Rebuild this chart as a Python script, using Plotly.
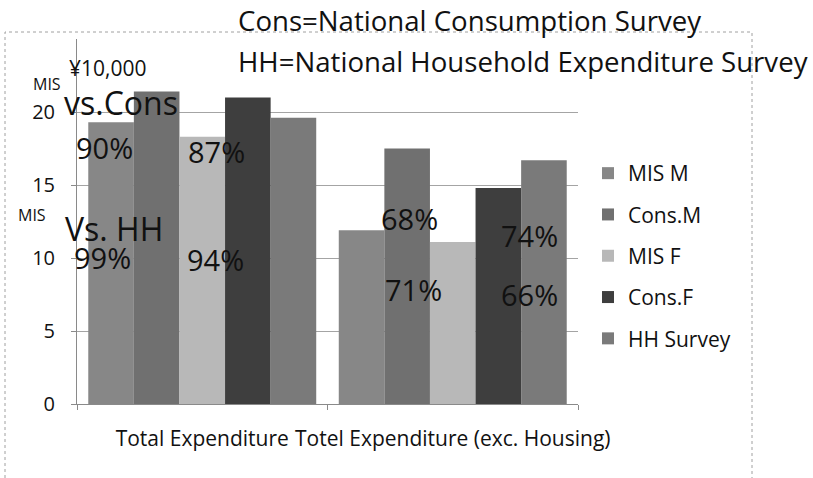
import plotly.graph_objects as go

categories = ["Total Expenditure", "Totel Expenditure (exc. Housing)"]
series_names = ["MIS M", "Cons.M", "MIS F", "Cons.F", "HH Survey"]
mis_m = [19.3, 11.9]
cons_m = [21.4, 17.5]
mis_f = [18.3, 11.1]
cons_f = [21.0, 14.8]
hh_survey = [19.6, 16.7]
series_values = [mis_m, cons_m, mis_f, cons_f, hh_survey]
colors = ["#878787", "#707070", "#b8b8b8", "#3e3e3e", "#7a7a7a"]
y_ticks = [0, 5, 10, 15, 20]

W, H = 813, 478
L, R, T, B = 77, 578, 39, 404
FONT = "Open Sans"

def px(x):
    return (x - L) / (R - L)

def py(y):
    return (B - y) / (B - T)

fig = go.Figure()
for i, (name, vals) in enumerate(zip(series_names, series_values)):
    fig.add_trace(go.Bar(
        x=categories, y=vals, name=name,
        marker=dict(color=colors[i], line=dict(width=0)),
        legendgroup=name,
    ))

notes = [
    ("Cons=National Consumption Survey", 236, 20, 27.6),
    ("HH=National Household Expenditure Survey", 236, 61, 27.6),
    ("¥10,000", 67, 68, 21),
    ("MIS", 31, 84, 16),
    ("vs.Cons", 62, 103, 32),
    ("90%", 74, 147, 29),
    ("87%", 186, 151, 29),
    ("MIS", 16, 215, 16),
    ("Vs. HH", 63, 228, 32),
    ("99%", 72, 257, 29),
    ("94%", 185, 259, 29),
    ("68%", 379, 218, 29),
    ("71%", 383, 289, 29),
    ("74%", 499, 235, 29),
    ("66%", 499, 294, 29),
]
annotations = []
for text, x, y, size in notes:
    annotations.append(dict(
        text=text, x=px(x), y=py(y), xref="paper", yref="paper",
        xanchor="left", yanchor="middle", showarrow=False,
        font=dict(family=FONT, size=size, color="#111111"),
    ))

fig.update_layout(
    width=W, height=H,
    margin=dict(l=L, r=W - R, t=T, b=H - B, pad=0, autoexpand=False),
    paper_bgcolor="white", plot_bgcolor="white",
    barmode="group", bargap=0.09, bargroupgap=0,
    font=dict(family=FONT, size=18, color="#111111"),
    showlegend=True,
    legend=dict(
        x=px(588), y=py(153), xanchor="left", yanchor="top",
        font=dict(family=FONT, size=21, color="#111111"),
        tracegroupgap=11, itemwidth=30, bgcolor="rgba(0,0,0,0)",
    ),
    xaxis=dict(
        type="category", range=[-0.5, 1.5], automargin=False, tickangle=0,
        showline=True, linecolor="#8a8a8a", linewidth=1,
        ticks="outside", ticklen=5, tickcolor="#8a8a8a", tickson="boundaries",
        showgrid=False, tickfont=dict(size=21, family=FONT),
        ticklabelstandoff=16,
    ),
    yaxis=dict(
        range=[0, 25], tickvals=y_ticks, ticktext=[str(v) for v in y_ticks],
        automargin=False,
        showline=True, linecolor="#8a8a8a", linewidth=1,
        ticks="outside", ticklen=5, tickcolor="#8a8a8a",
        showgrid=True, gridcolor="#a4a4a4", gridwidth=1,
        zeroline=False, tickfont=dict(size=20, family=FONT),
        ticklabelstandoff=12,
    ),
    annotations=annotations,
    shapes=[dict(
        type="rect", xref="paper", yref="paper",
        x0=px(5), x1=px(752), y0=py(495), y1=py(32),
        line=dict(color="#a0a0a0", width=1, dash="dot"),
        fillcolor="rgba(0,0,0,0)", layer="below",
    )],
)

fig.write_html("out.html", config={"displayModeBar": False},
               post_script="document.body.style.margin='0';")
